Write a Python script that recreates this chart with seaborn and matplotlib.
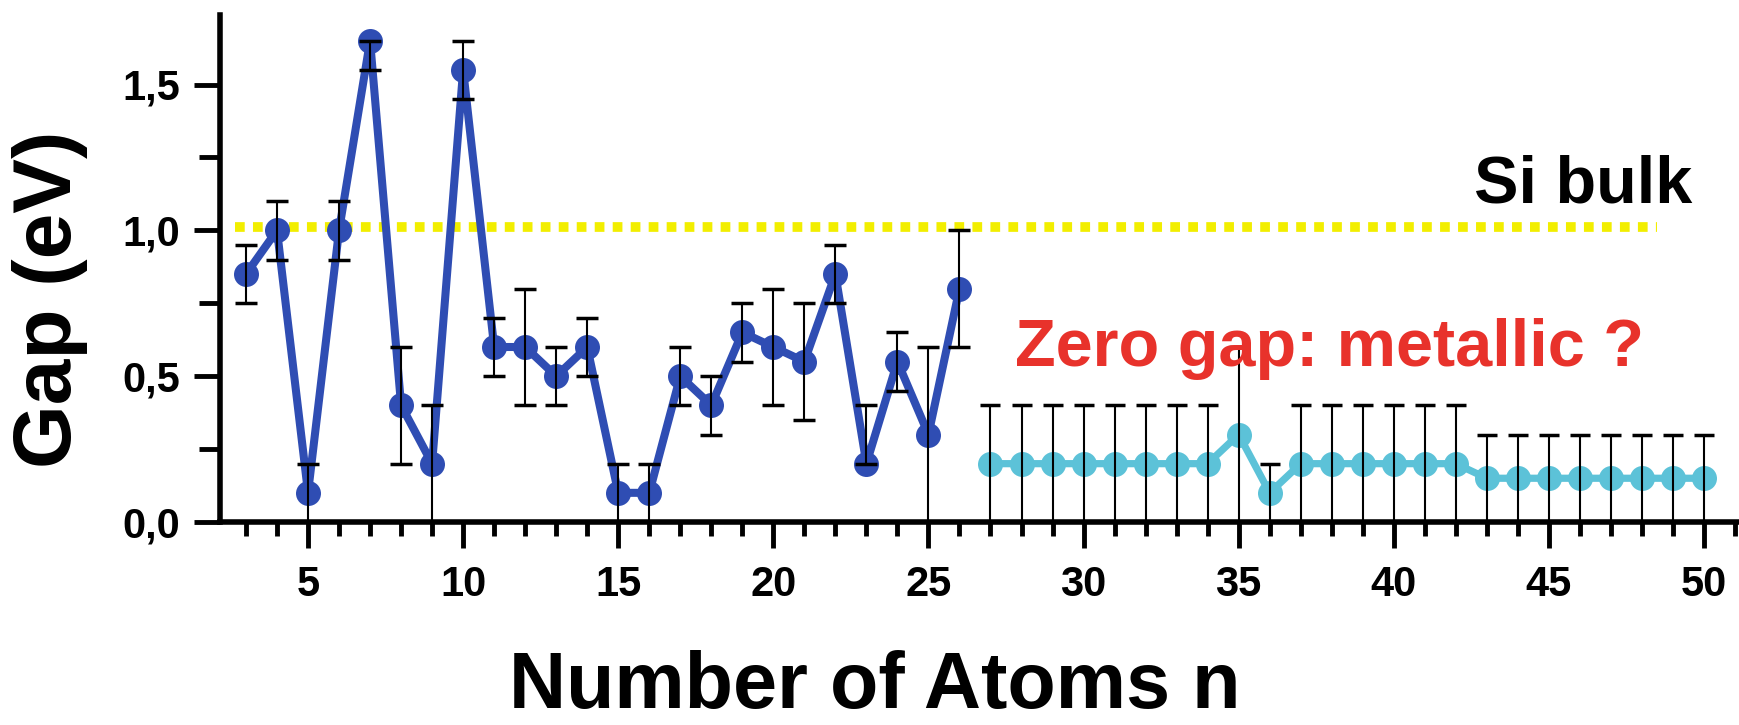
import numpy as np
import pandas as pd
import matplotlib
matplotlib.use("Agg")
import matplotlib.pyplot as plt
import seaborn as sns
from matplotlib.ticker import MultipleLocator, FuncFormatter

# small clusters (computed gap with error)
n_small = [3, 4, 5, 6, 7, 8, 9, 10, 11, 12, 13, 14, 15, 16, 17, 18, 19, 20, 21, 22, 23, 24, 25, 26]
gap_small = [0.85, 1.0, 0.1, 1.0, 1.65, 0.4, 0.2, 1.55, 0.6, 0.6, 0.5, 0.6,
             0.1, 0.1, 0.5, 0.4, 0.65, 0.6, 0.55, 0.85, 0.2, 0.55, 0.3, 0.8]
err_lo_small = [0.1, 0.1, 0.1, 0.1, 0.1, 0.2, 0.2, 0.1, 0.1, 0.2, 0.1, 0.1,
                0.1, 0.1, 0.1, 0.1, 0.1, 0.2, 0.2, 0.1, 0.0, 0.1, 0.3, 0.2]
err_hi_small = [0.1, 0.1, 0.1, 0.1, 0.0, 0.2, 0.2, 0.1, 0.1, 0.2, 0.1, 0.1,
                0.1, 0.1, 0.1, 0.1, 0.1, 0.2, 0.2, 0.1, 0.2, 0.1, 0.3, 0.2]

# larger clusters (possibly metallic)
n_large = [27, 28, 29, 30, 31, 32, 33, 34, 35, 36, 37, 38, 39, 40, 41, 42, 43, 44, 45, 46, 47, 48, 49, 50]
gap_large = [0.2, 0.2, 0.2, 0.2, 0.2, 0.2, 0.2, 0.2, 0.3, 0.1, 0.2, 0.2,
             0.2, 0.2, 0.2, 0.2, 0.15, 0.15, 0.15, 0.15, 0.15, 0.15, 0.15, 0.15]
err_large = [0.2, 0.2, 0.2, 0.2, 0.2, 0.2, 0.2, 0.2, 0.3, 0.1, 0.2, 0.2,
             0.2, 0.2, 0.2, 0.2, 0.15, 0.15, 0.15, 0.15, 0.15, 0.15, 0.15, 0.15]

si_bulk = 1.01
si_line_x = [2.65, 48.5]

blue = "#2f4db3"
cyan = "#5cc2d8"
red = "#e8322b"
yellow = "#f2ee00"

df_small = pd.DataFrame({"n": n_small, "gap": gap_small})
df_large = pd.DataFrame({"n": n_large, "gap": gap_large})

sns.set_style("ticks")
plt.rcParams['font.family'] = ['Liberation Sans', 'DejaVu Sans']
plt.rcParams['font.weight'] = 'bold'
for key in ["text.color", "axes.labelcolor", "xtick.color", "ytick.color", "axes.edgecolor"]:
    plt.rcParams[key] = "black"

fig = plt.figure(figsize=(17.4, 7.25), dpi=100)
ax = fig.add_axes([0.1264, 0.280, 0.8725, 0.700])

# Si bulk reference line
ax.plot(si_line_x, [si_bulk, si_bulk], color=yellow, lw=7,
        dashes=(1.0, 0.85), dash_capstyle='butt', zorder=1)

sns.lineplot(data=df_small, x="n", y="gap", ax=ax, color=blue, lw=5.8,
             marker="o", markersize=18, markeredgewidth=0, zorder=2)
sns.lineplot(data=df_large, x="n", y="gap", ax=ax, color=cyan, lw=5.2,
             marker="o", markersize=18, markeredgewidth=0, zorder=2)

ax.errorbar(n_small, gap_small, yerr=[err_lo_small, err_hi_small], fmt="none",
            ecolor="black", elinewidth=1.5, capsize=8, capthick=2.5, zorder=3)
ax.errorbar(n_large, gap_large, yerr=err_large, fmt="none",
            ecolor="black", elinewidth=1.5, capsize=7.5, capthick=2.5, zorder=3)

ax.set_xlim(2.16, 51.1)
ax.set_ylim(0, 1.74)

ax.xaxis.set_major_locator(MultipleLocator(5))
ax.xaxis.set_minor_locator(MultipleLocator(1))
ax.yaxis.set_major_locator(MultipleLocator(0.5))
ax.yaxis.set_minor_locator(MultipleLocator(0.25))
ax.yaxis.set_major_formatter(FuncFormatter(lambda v, p: f"{v:.1f}".replace(".", ",")))

ax.tick_params(axis="x", which="major", length=19, width=3.5, pad=12, labelsize=30)
ax.tick_params(axis="x", which="minor", length=10, width=3.5)
ax.tick_params(axis="y", which="major", length=19, width=3.5, pad=10, labelsize=30)
ax.tick_params(axis="y", which="minor", length=15, width=3.5)
for lab in ax.get_xticklabels() + ax.get_yticklabels():
    lab.set_fontweight("bold")

sns.despine(ax=ax)
for side in ["left", "bottom"]:
    ax.spines[side].set_linewidth(4)

ax.set_xlabel("")
ax.set_ylabel("")
fig.text(0.503, 0.024, "Number of Atoms n", ha="center", va="baseline",
         fontsize=57, fontweight="bold")
fig.text(0.0285, 0.5876, "Gap (eV)", rotation=90, ha="center", va="center",
         fontsize=59, fontweight="bold")

ax.text(42.6, 1.096, "Si bulk", ha="left", va="baseline", fontsize=48,
        fontweight="bold", color="black")
ax.text(27.8, 0.535, "Zero gap: metallic ?", ha="left", va="baseline", fontsize=48,
        fontweight="bold", color=red)

fig.savefig("out.png", dpi=100)
